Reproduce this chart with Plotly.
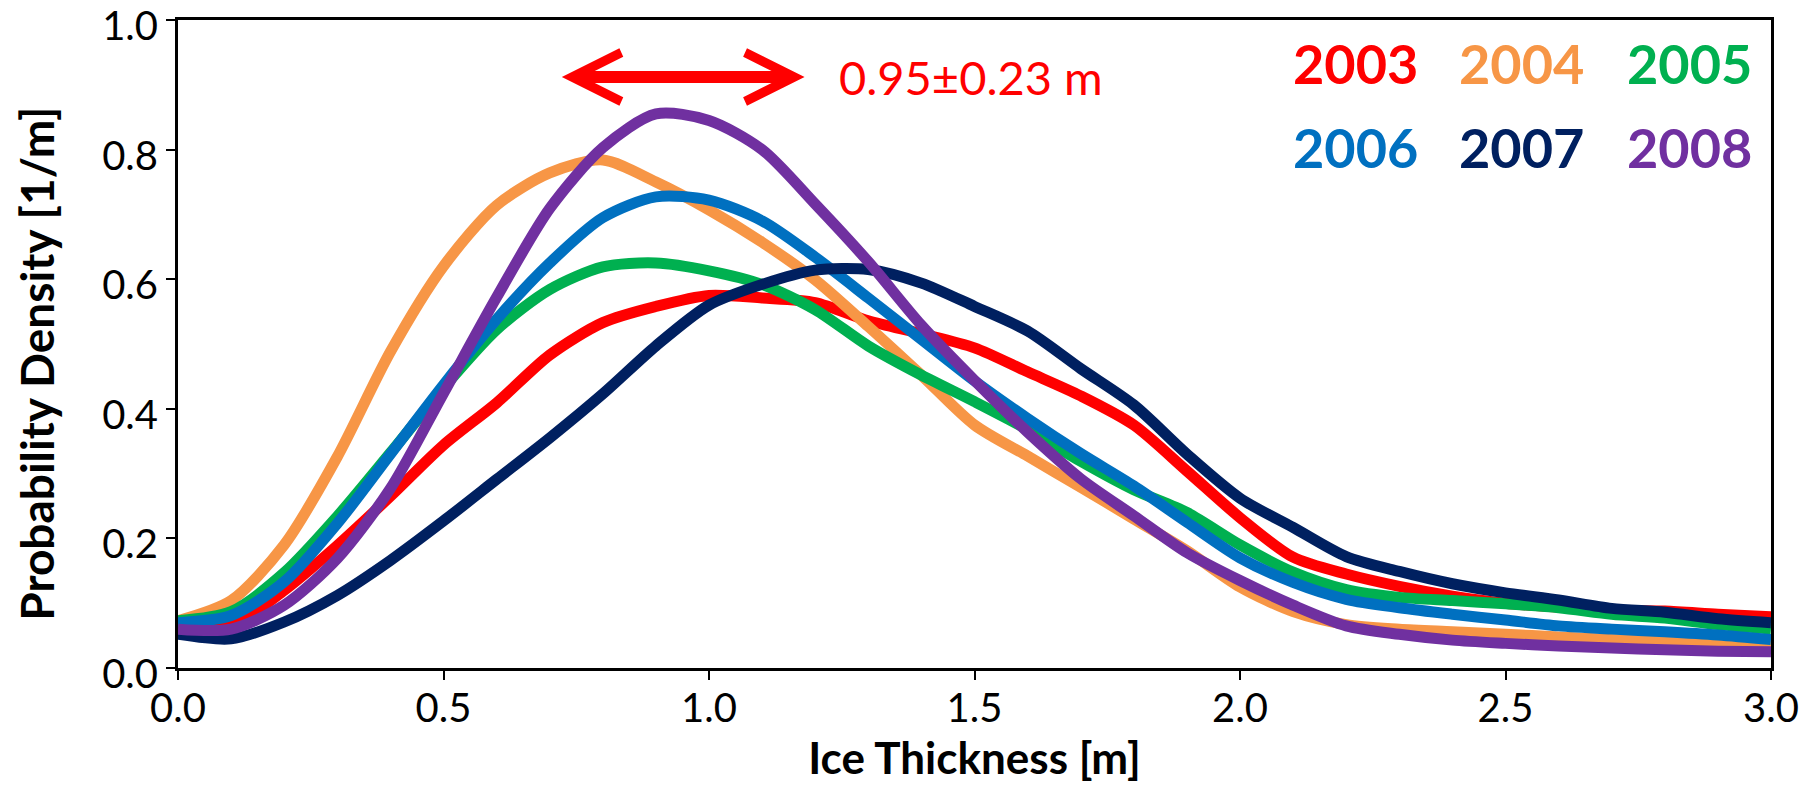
import plotly.graph_objects as go

# Ice thickness grid [m]
thickness = [round(0.1 * i, 1) for i in range(31)]

# Probability density [1/m] per year
pd_2003 = [0.060, 0.065, 0.120, 0.189, 0.265, 0.344, 0.409, 0.483, 0.533, 0.558, 0.575,
           0.571, 0.564, 0.536, 0.516, 0.494, 0.457, 0.420, 0.375, 0.304, 0.232,
           0.171, 0.145, 0.126, 0.111, 0.100, 0.094, 0.089, 0.088, 0.083, 0.079]
pd_2004 = [0.073, 0.104, 0.190, 0.326, 0.488, 0.620, 0.714, 0.764, 0.784, 0.750, 0.707,
           0.657, 0.599, 0.527, 0.452, 0.375, 0.327, 0.279, 0.230, 0.181, 0.125,
           0.087, 0.067, 0.060, 0.056, 0.052, 0.048, 0.044, 0.040, 0.036, 0.034]
pd_2005 = [0.073, 0.087, 0.147, 0.234, 0.332, 0.432, 0.522, 0.584, 0.619, 0.625, 0.613,
           0.592, 0.553, 0.497, 0.452, 0.411, 0.368, 0.319, 0.275, 0.240, 0.190,
           0.148, 0.121, 0.109, 0.104, 0.099, 0.093, 0.083, 0.077, 0.067, 0.060]
pd_2006 = [0.070, 0.081, 0.133, 0.223, 0.330, 0.437, 0.538, 0.625, 0.695, 0.727, 0.722,
           0.690, 0.634, 0.571, 0.507, 0.443, 0.385, 0.331, 0.281, 0.225, 0.170,
           0.132, 0.106, 0.093, 0.083, 0.074, 0.065, 0.060, 0.056, 0.051, 0.044]
pd_2007 = [0.052, 0.045, 0.071, 0.112, 0.166, 0.227, 0.291, 0.355, 0.423, 0.497, 0.560,
           0.592, 0.614, 0.615, 0.594, 0.558, 0.520, 0.462, 0.406, 0.330, 0.262,
           0.217, 0.172, 0.149, 0.130, 0.116, 0.105, 0.092, 0.086, 0.076, 0.070]
pd_2008 = [0.060, 0.060, 0.097, 0.169, 0.277, 0.424, 0.572, 0.709, 0.803, 0.855, 0.845,
           0.800, 0.716, 0.627, 0.529, 0.444, 0.364, 0.292, 0.235, 0.178, 0.135,
           0.097, 0.065, 0.052, 0.043, 0.038, 0.034, 0.031, 0.028, 0.026, 0.025]

years = ["2003", "2004", "2005", "2006", "2007", "2008"]
series = [pd_2003, pd_2004, pd_2005, pd_2006, pd_2007, pd_2008]
colors = ["#FF0000", "#F79646", "#00B050", "#0070C0", "#002060", "#7030A0"]

# Mean thickness and its spread
mean_thk = 0.95
sd_thk = 0.23

x_ticks = [0.0, 0.5, 1.0, 1.5, 2.0, 2.5, 3.0]
y_ticks = [0.0, 0.2, 0.4, 0.6, 0.8, 1.0]

FONT = "Lato, 'Open Sans', sans-serif"

fig = go.Figure()
for name, vals, col in zip(years, series, colors):
    fig.add_trace(go.Scatter(
        x=thickness, y=vals, name=name, mode="lines",
        line=dict(color=col, width=11, shape="spline", smoothing=0.8),
        showlegend=False,
    ))

annotations = []
# Year labels in a 3x2 block, coloured like their curves
col_x = [2.217, 2.531, 2.846]
row_y = [0.933, 0.804]
for i, (name, col) in enumerate(zip(years, colors)):
    annotations.append(dict(
        x=col_x[i % 3], y=row_y[i // 3], xref="x", yref="y",
        text=f"<b>{name}</b>", showarrow=False,
        font=dict(family=FONT, size=54, color=col),
        xanchor="center", yanchor="middle",
    ))

# Double-headed arrow spanning mean +/- sd
arrow_y = 0.912
annotations.append(dict(
    x=mean_thk + sd_thk, y=arrow_y, ax=mean_thk - sd_thk, ay=arrow_y,
    xref="x", yref="y", axref="x", ayref="y",
    text="", showarrow=True, arrowside="end+start",
    arrowhead=5, startarrowhead=5, arrowsize=0.8, startarrowsize=0.8,
    arrowwidth=12, arrowcolor="#FF0000",
))
annotations.append(dict(
    x=1.241, y=arrow_y, xref="x", yref="y",
    text=f"{mean_thk:.2f}±{sd_thk:.2f} m", showarrow=False,
    font=dict(family=FONT, size=47, color="#FF0000"),
    xanchor="left", yanchor="middle",
))

# Y-axis title placed beside the tick labels
annotations.append(dict(
    x=-0.089, y=0.47, xref="paper", yref="paper",
    text="<b>Probability Density [1/m]</b>", showarrow=False, textangle=-90,
    font=dict(family=FONT, size=46, color="black"),
    xanchor="center", yanchor="middle",
))

axis_common = dict(
    showline=True, linecolor="black", linewidth=3, mirror=True,
    ticks="outside", ticklen=9, tickwidth=2, tickcolor="black",
    showgrid=False, zeroline=False, ticklabeloverflow="allow",
    automargin=False,
    tickfont=dict(family=FONT, size=40, color="black"),
    tickformat=".1f",
)

fig.update_layout(
    width=1806, height=785,
    margin=dict(l=178, r=35, t=20, b=117, autoexpand=False),
    paper_bgcolor="white", plot_bgcolor="white",
    xaxis=dict(range=[0, 3], tickvals=x_ticks, ticklabelstandoff=-6,
               title=dict(text="<b>Ice Thickness [m]</b>", standoff=14,
                          font=dict(family=FONT, size=44, color="black")),
               **axis_common),
    yaxis=dict(range=[0, 1], tickvals=y_ticks, ticklabelshift=6,
               **axis_common),
    annotations=annotations,
)

fig.write_html("out.html")
